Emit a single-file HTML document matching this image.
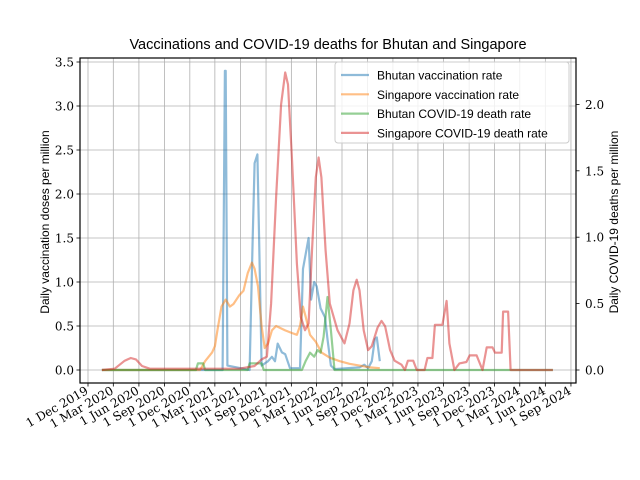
<!DOCTYPE html>
<html><head><meta charset="utf-8"><style>
body{margin:0;background:#fff}
svg{display:block;font-family:"DejaVu Serif","Liberation Serif",serif}
</style></head><body>
<svg id="chart" width="640" height="480" viewBox="0 0 640 480">
<text x="328" y="49" font-size="14.5" text-anchor="middle" font-family="Liberation Sans, sans-serif">Vaccinations and COVID-19 deaths for Bhutan and Singapore</text>
<g id="grid"></g>
<g id="series"></g>
<rect x="80" y="58" width="496" height="325" fill="none" stroke="#000" stroke-width="1.2"/>
<g id="axes" font-size="12"></g>
<text transform="translate(49,222) rotate(-90)" font-size="12" text-anchor="middle" font-family="Liberation Sans, sans-serif">Daily vaccination doses per million</text>
<text transform="translate(618,222) rotate(-90)" font-size="12" text-anchor="middle" font-family="Liberation Sans, sans-serif">Daily COVID-19 deaths per million</text>
<g id="legend">
<rect x="335" y="62" width="234" height="81" rx="3" fill="#fff" fill-opacity="0.8" stroke="#ccc"/>
</g>
</svg>
<script>
const xTickLabels=["1 Dec 2019","1 Mar 2020","1 Jun 2020","1 Sep 2020","1 Dec 2020","1 Mar 2021","1 Jun 2021","1 Sep 2021","1 Dec 2021","1 Mar 2022","1 Jun 2022","1 Sep 2022","1 Dec 2022","1 Mar 2023","1 Jun 2023","1 Sep 2023","1 Dec 2023","1 Mar 2024","1 Jun 2024","1 Sep 2024"];
const xTickDates=["2019-12-01","2020-03-01","2020-06-01","2020-09-01","2020-12-01","2021-03-01","2021-06-01","2021-09-01","2021-12-01","2022-03-01","2022-06-01","2022-09-01","2022-12-01","2023-03-01","2023-06-01","2023-09-01","2023-12-01","2024-03-01","2024-06-01","2024-09-01"];
const leftTicks=[0,0.5,1,1.5,2,2.5,3,3.5];
const leftTickLabels=["0.0","0.5","1.0","1.5","2.0","2.5","3.0","3.5"];
const rightTicks=[0,0.5,1,1.5,2];
const rightTickLabels=["0.0","0.5","1.0","1.5","2.0"];
const seriesNames=["Bhutan vaccination rate","Singapore vaccination rate","Bhutan COVID-19 death rate","Singapore COVID-19 death rate"];
const seriesColors=["#1f77b4","#ff7f0e","#2ca02c","#d62728"];

const bhVaxDates=["2020-01-20","2021-03-29","2021-04-06","2021-04-09","2021-04-15","2021-07-04","2021-07-15","2021-07-22","2021-08-01","2021-08-07","2021-08-16","2021-09-08","2021-09-22","2021-10-03","2021-10-13","2021-10-28","2021-11-09","2021-11-26","2022-01-01","2022-01-12","2022-02-01","2022-02-10","2022-02-21","2022-03-02","2022-03-16","2022-04-01","2022-04-10","2022-04-22","2022-05-05","2022-08-03","2022-08-20","2022-09-03","2022-09-16","2022-09-27","2022-10-04","2022-10-15"];
const bhVaxValues=[0,0,3.4,3.4,0.05,0,1.5,2.35,2.45,1.5,0.05,0.1,0.15,0.1,0.3,0.2,0.18,0.02,0.02,1.15,1.5,0.8,1.0,0.95,0.7,0.6,0.35,0.05,0.01,0.03,0.06,0.02,0.1,0.35,0.37,0.1];

const sgVaxDates=["2020-01-20","2021-01-07","2021-01-25","2021-02-19","2021-03-01","2021-03-10","2021-03-25","2021-04-09","2021-04-24","2021-05-07","2021-05-28","2021-06-12","2021-06-27","2021-07-12","2021-07-22","2021-08-03","2021-08-16","2021-08-27","2021-09-08","2021-09-22","2021-10-07","2021-11-09","2021-12-03","2021-12-21","2022-01-01","2022-01-12","2022-01-22","2022-02-06","2022-02-27","2022-03-19","2022-04-18","2022-05-24","2022-06-28","2022-08-03","2022-09-09","2022-10-15"];
const sgVaxValues=[0,0,0.1,0.2,0.27,0.45,0.72,0.8,0.72,0.75,0.85,0.9,1.1,1.22,1.15,0.95,0.5,0.25,0.3,0.45,0.5,0.45,0.42,0.4,0.5,0.72,0.6,0.4,0.32,0.2,0.14,0.1,0.07,0.05,0.03,0.02];

const bhDeathDates=["2020-01-20","2020-12-23","2020-12-30","2021-01-18","2021-01-25","2021-06-27","2021-07-04","2021-08-16","2021-08-24","2022-01-08","2022-01-22","2022-02-06","2022-02-21","2022-03-05","2022-03-16","2022-03-27","2022-04-10","2022-04-22","2022-05-05","2024-06-28"];
const bhDeathValues=[0,0,0.05,0.05,0,0,0.05,0.05,0,0,0.07,0.13,0.1,0.15,0.13,0.25,0.55,0.3,0,0];

const sgDeathDates=["2020-01-20","2020-03-06","2020-04-11","2020-05-03","2020-05-21","2020-06-12","2020-07-10","2021-01-07","2021-05-28","2021-07-22","2021-08-16","2021-09-04","2021-09-19","2021-10-07","2021-10-25","2021-11-09","2021-11-19","2021-12-03","2021-12-21","2022-01-04","2022-01-19","2022-02-01","2022-02-13","2022-02-27","2022-03-09","2022-03-19","2022-04-03","2022-04-18","2022-05-16","2022-06-10","2022-06-28","2022-07-12","2022-07-24","2022-08-03","2022-08-18","2022-09-03","2022-09-16","2022-10-07","2022-10-21","2022-11-03","2022-11-21","2022-12-07","2023-01-01","2023-01-13","2023-01-24","2023-02-12","2023-02-25","2023-03-25","2023-04-04","2023-04-22","2023-05-01","2023-05-28","2023-06-12","2023-06-22","2023-07-10","2023-07-28","2023-08-22","2023-09-03","2023-09-28","2023-10-19","2023-11-03","2023-11-24","2023-12-03","2023-12-27","2024-01-01","2024-01-19","2024-01-28","2024-06-28"];
const sgDeathValues=[0,0.01,0.07,0.09,0.08,0.03,0.01,0.01,0.01,0.03,0.08,0.1,0.5,1.3,2.0,2.24,2.15,1.6,0.8,0.4,0.3,0.35,0.9,1.45,1.6,1.45,0.9,0.5,0.3,0.2,0.35,0.6,0.68,0.6,0.3,0.15,0.18,0.32,0.37,0.33,0.15,0.07,0.04,0,0.07,0.07,0,0,0.09,0.09,0.34,0.34,0.52,0.2,0,0.05,0.06,0.11,0.11,0,0.17,0.17,0.13,0.13,0.44,0.44,0,0];

const NS="http://www.w3.org/2000/svg";
const t0=Date.UTC(2019,11,1);
function xScale(d){const p=d.split("-");const days=(Date.UTC(+p[0],+p[1]-1,+p[2])-t0)/86400000;return 88+days*0.2782;}
function yLeft(v){return 370-v*88;}
function yRight(v){return 370-v*132.8;}
function mk(tag,attrs,parent){const e=document.createElementNS(NS,tag);for(const k in attrs)e.setAttribute(k,attrs[k]);parent.appendChild(e);return e;}
const grid=document.getElementById("grid"),axes=document.getElementById("axes"),series=document.getElementById("series"),legend=document.getElementById("legend");

xTickDates.forEach((d,i)=>{const x=xScale(d);
 const g=mk("line",{x1:x,x2:x,y1:58,y2:383,stroke:"#b0b0b0","stroke-width":0.8},grid);
 
 
 mk("line",{x1:x,x2:x,y1:383,y2:386.5,stroke:"#000","stroke-width":0.8},axes);
 const t=mk("text",{transform:`translate(${x+1},${393}) rotate(-30)`,"text-anchor":"end","font-size":"12"},axes);
 t.textContent=xTickLabels[i];
 
 
});
leftTicks.forEach((v,i)=>{const y=yLeft(v);
 const g=mk("line",{x1:80,x2:576,y1:y,y2:y,stroke:"#b0b0b0","stroke-width":0.8},grid);
 
 
 mk("line",{x1:76.5,x2:80,y1:y,y2:y,stroke:"#000","stroke-width":0.8},axes);
 const t=mk("text",{x:74,y:y+4.5,"text-anchor":"end"},axes);
 t.textContent=leftTickLabels[i];
 
 
});
rightTicks.forEach((v,i)=>{const y=yRight(v);
 mk("line",{x1:576,x2:579.5,y1:y,y2:y,stroke:"#000","stroke-width":0.8},axes);
 const t=mk("text",{x:585,y:y+4.5},axes);
 t.textContent=rightTickLabels[i];
 
 
});
function drawLine(dates,vals,yf,color,name){
 const pts=dates.map((d,i)=>xScale(d).toFixed(1)+","+yf(vals[i]).toFixed(1)).join(" ");
 const p=mk("polyline",{points:pts,fill:"none",stroke:color,"stroke-width":2.2,"stroke-opacity":0.5,"stroke-linejoin":"round"},series);
 
 
}
drawLine(bhVaxDates,bhVaxValues,yLeft,seriesColors[0],"bhutan-vaccination-line");
drawLine(sgVaxDates,sgVaxValues,yLeft,seriesColors[1],"singapore-vaccination-line");
drawLine(bhDeathDates,bhDeathValues,yRight,seriesColors[2],"bhutan-death-line");
drawLine(sgDeathDates,sgDeathValues,yRight,seriesColors[3],"singapore-death-line");
seriesNames.forEach((n,i)=>{const y=75+i*19.3;
 const l=mk("line",{x1:341,x2:369,y1:y,y2:y,stroke:seriesColors[i],"stroke-width":2.2,"stroke-opacity":0.5},legend);
 
 
 const t=mk("text",{x:377,y:y+4.5,"font-size":"12","font-family":"Liberation Sans, sans-serif"},legend);
 t.textContent=n;
 
 
});
</script>
</body></html>
